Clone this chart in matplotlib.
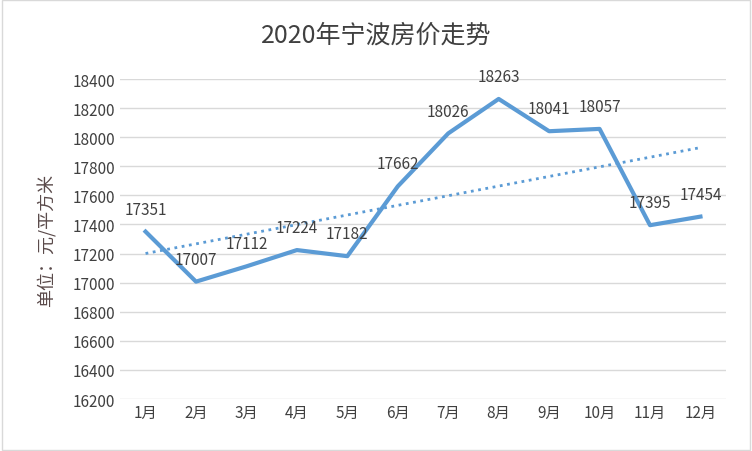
import matplotlib.pyplot as plt
import numpy as np

plt.rcParams['font.family'] = ['Noto Sans CJK SC', 'DejaVu Sans']

# 数据
meses = ['1月', '2月', '3月', '4月', '5月', '6月', '7月', '8月', '9月', '10月', '11月', '12月']
precios = [17351, 17007, 17112, 17224, 17182, 17662, 18026, 18263, 18041, 18057, 17395, 17454]

fig = plt.figure(figsize=(7.52, 4.52), dpi=100)
ax = fig.add_axes([0.16, 0.115, 0.805, 0.708])

x = np.arange(len(meses))
ax.plot(x, precios, color='#5B9BD5', linewidth=3, solid_joinstyle='round')

# línea de tendencia lineal
a, b = np.polyfit(x, precios, 1)
ax.plot(x, a * x + b, color='#5B9BD5', linestyle=':', linewidth=2)

for xi, v in zip(x, precios):
    ax.annotate(str(v), (xi, v), xytext=(0, 10), textcoords='offset points',
                ha='center', va='bottom', fontsize=11, color='#404040')

ax.set_xlim(-0.5, len(meses) - 0.5)
ax.set_ylim(16200, 18400)
ax.set_yticks(range(16200, 18401, 200))
ax.set_xticks(x)
ax.set_xticklabels(meses)
ax.tick_params(length=0, labelsize=11, labelcolor='#404040')
ax.grid(axis='y', color='#D9D9D9', linewidth=1)
ax.set_axisbelow(True)
for s in ax.spines.values():
    s.set_visible(False)

ax.set_ylabel('单位：元/平方米', fontsize=13, color='#5a4a4a', labelpad=12)
fig.suptitle('2020年宁波房价走势', fontsize=18, color='#404040', y=0.95)

fig.patches.append(plt.Rectangle((0.002, 0.002), 0.996, 0.996, transform=fig.transFigure,
                                 fill=False, edgecolor='#D9D9D9', linewidth=1))

plt.savefig('out.png', dpi=100)
